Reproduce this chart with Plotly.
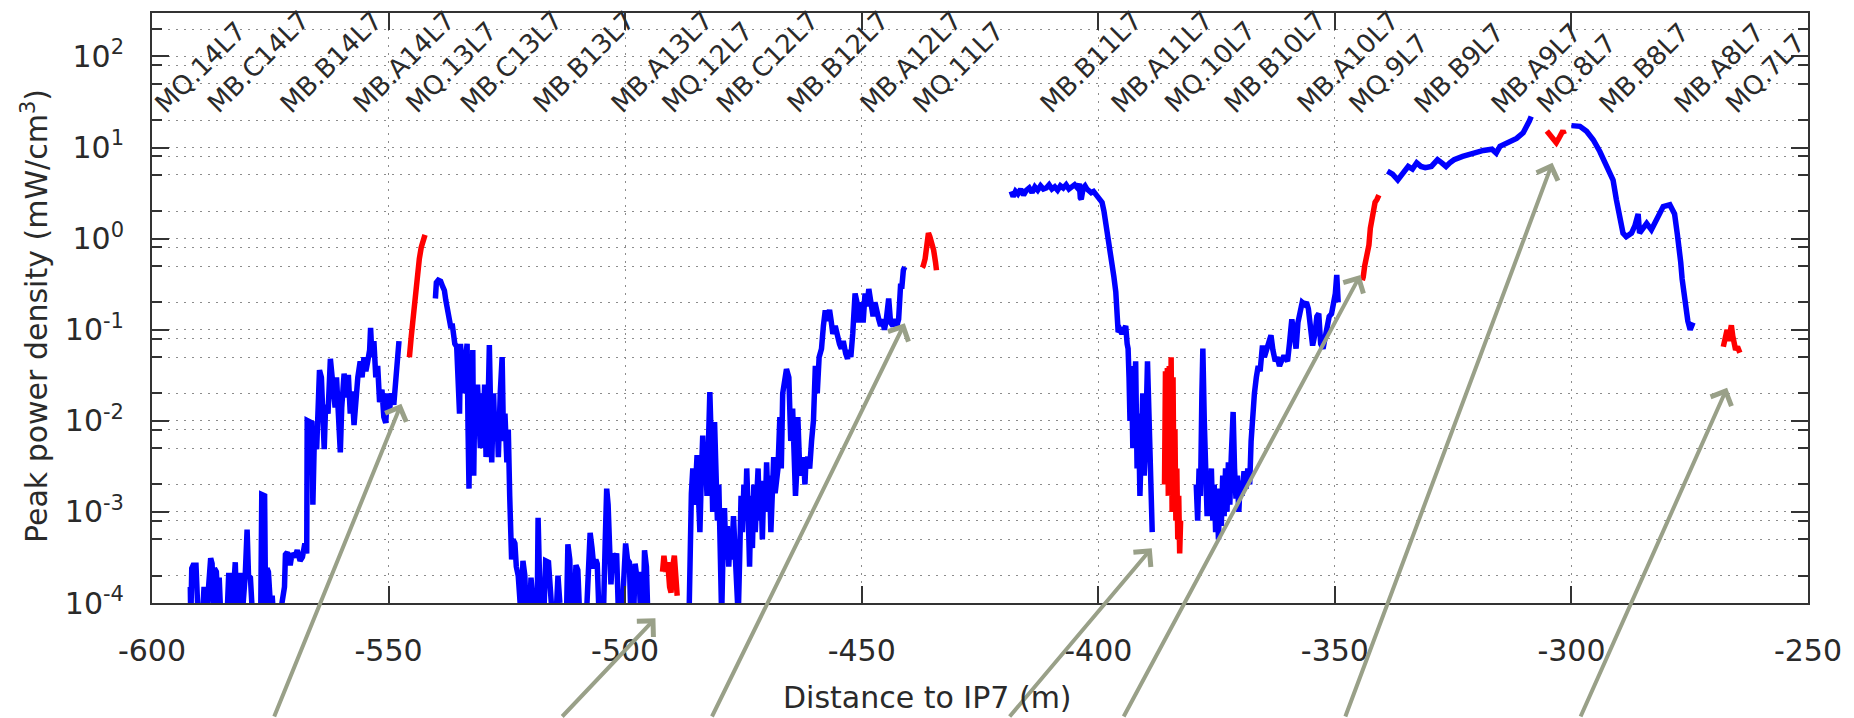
import math
import plotly.graph_objects as go

# Peak power density along the arc left of IP7.
# Each list is one continuous run of (distance to IP7 [m], density [mW/cm^3]).
blue_a = [
    (-591.9, 1.5e-4), (-591.8, 6e-5), (-591.6, 2.4e-4), (-591.3, 2.6e-4), (-590.7, 2.6e-4),
    (-590.4, 1.3e-4), (-590.2, 6e-5), (-589.4, 6e-5), (-589.0, 1.5e-4), (-588.6, 6e-5),
    (-588.0, 1.6e-4), (-587.6, 3.1e-4), (-587.3, 2.7e-4), (-587.0, 7e-5), (-586.8, 2.4e-4),
    (-586.4, 2.2e-4), (-586.0, 8e-5), (-585.8, 1.9e-4), (-585.5, 8e-5), (-585.0, 6e-5),
    (-584.2, 6e-5), (-583.8, 2e-4), (-583.3, 2e-4), (-583.0, 8e-5), (-582.6, 1.9e-4),
    (-582.4, 2.8e-4), (-582.1, 8e-5), (-581.8, 2e-4), (-581.2, 2e-4), (-580.8, 9e-5),
    (-580.3, 2e-4), (-579.9, 6.4e-4), (-579.6, 2e-4), (-579.2, 1.9e-4), (-578.8, 8e-5),
    (-578.4, 6e-5), (-577.3, 6e-5), (-577.0, 1e-4), (-576.8, 1.55e-3), (-576.2, 1.5e-3),
    (-576.0, 1e-4), (-575.7, 2.4e-4), (-575.4, 2.2e-4), (-575.0, 1e-4), (-574.6, 1.2e-4),
    (-574.3, 7e-5), (-573.0, 7e-5), (-572.4, 1.1e-4), (-572.0, 1.5e-4), (-571.8, 3.4e-4),
    (-571.4, 3.6e-4), (-570.8, 2.6e-4), (-570.4, 3.5e-4), (-569.8, 3.2e-4), (-569.3, 3.8e-4),
    (-568.7, 2.9e-4), (-568.2, 3.2e-4), (-567.7, 4.5e-4), (-567.3, 3.5e-4), (-567.2, 0.0101),
    (-566.5, 0.0098), (-566.2, 0.0095), (-566.0, 0.0012), (-565.7, 0.006), (-565.2, 0.0049),
    (-564.9, 0.012), (-564.6, 0.036), (-564.2, 0.03), (-563.9, 0.0075), (-563.6, 0.0049),
    (-563.3, 0.015), (-562.8, 0.012), (-562.3, 0.048), (-561.8, 0.022), (-561.3, 0.014),
    (-561.0, 0.03), (-560.6, 0.012), (-560.2, 0.0045), (-559.9, 0.014), (-559.4, 0.033),
    (-559.0, 0.018), (-558.5, 0.032), (-558.1, 0.012), (-557.7, 0.021), (-557.3, 0.009),
    (-556.9, 0.02), (-556.5, 0.03), (-556.0, 0.045), (-555.6, 0.03), (-555.2, 0.05),
    (-554.8, 0.035), (-554.4, 0.045), (-554.0, 0.06), (-553.8, 0.105), (-553.5, 0.05),
    (-553.1, 0.075), (-552.7, 0.03), (-552.3, 0.04), (-551.9, 0.016), (-551.4, 0.022),
    (-551.0, 0.011), (-550.6, 0.0095), (-550.2, 0.02), (-549.8, 0.013), (-549.4, 0.02),
    (-548.9, 0.015), (-548.5, 0.03), (-548.1, 0.045), (-547.8, 0.075),
]
blue_b = [
    (-540.1, 0.22), (-539.9, 0.33), (-539.5, 0.35), (-539.0, 0.34), (-538.6, 0.3),
    (-538.2, 0.27), (-537.9, 0.21), (-537.5, 0.16), (-537.2, 0.14), (-536.9, 0.11),
    (-536.5, 0.11), (-536.2, 0.08), (-536.0, 0.07), (-535.6, 0.065), (-535.3, 0.02),
    (-535.0, 0.012), (-534.8, 0.07), (-534.5, 0.04), (-534.2, 0.05), (-534.0, 0.02),
    (-533.7, 0.05), (-533.4, 0.07), (-533.2, 0.008), (-533.0, 0.0018), (-532.8, 0.02),
    (-532.5, 0.004), (-532.2, 0.06), (-532.0, 0.0025), (-531.8, 0.015), (-531.5, 0.008),
    (-531.2, 0.025), (-530.9, 0.01), (-530.6, 0.005), (-530.3, 0.02), (-530.0, 0.006),
    (-529.7, 0.025), (-529.4, 0.004), (-529.0, 0.012), (-528.7, 0.068), (-528.5, 0.02),
    (-528.2, 0.0035), (-527.8, 0.02), (-527.5, 0.006), (-527.1, 0.012), (-526.8, 0.004),
    (-526.4, 0.02), (-526.0, 0.05), (-525.7, 0.006), (-525.4, 0.012), (-525.0, 0.0035),
    (-524.7, 0.008), (-524.4, 0.0015), (-524.2, 0.0005), (-524.0, 0.0003),
    (-523.7, 5e-4), (-523.3, 4.5e-4), (-523.0, 2.5e-4), (-522.6, 2e-4), (-522.3, 1.2e-4),
    (-522.0, 7e-5), (-521.6, 2.9e-4), (-521.2, 2e-4), (-520.9, 7e-5), (-520.2, 7e-5),
    (-519.9, 1.9e-4), (-519.6, 1.2e-4), (-519.2, 7e-5), (-518.6, 7e-5), (-518.4, 8.6e-4),
    (-518.1, 2e-4), (-517.8, 7e-5), (-517.2, 7e-5), (-516.8, 2.9e-4), (-516.2, 2.8e-4),
    (-515.8, 1.5e-4), (-515.4, 7e-5), (-514.6, 7e-5), (-514.2, 2e-4), (-513.8, 1e-4),
    (-513.4, 7e-5), (-512.4, 7e-5), (-512.1, 4.4e-4), (-511.7, 3e-4), (-511.4, 7e-5),
    (-510.8, 7e-5), (-510.4, 2.6e-4), (-510.0, 2.3e-4), (-509.6, 7e-5), (-508.2, 7e-5),
    (-507.8, 2.6e-4), (-507.4, 5.9e-4), (-507.0, 4e-4), (-506.6, 2.4e-4), (-506.2, 3e-4),
    (-505.9, 2.7e-4), (-505.5, 7e-5), (-504.6, 7e-5), (-504.2, 5e-4), (-503.9, 1.8e-3),
    (-503.6, 1.2e-3), (-503.3, 3e-4), (-503.0, 1.6e-4), (-502.6, 3.5e-4), (-502.2, 2.9e-4),
    (-501.8, 3.5e-4), (-501.4, 7e-5), (-500.7, 7e-5), (-500.3, 1.9e-4), (-499.9, 4.5e-4),
    (-499.5, 3e-4), (-499.1, 2.8e-4), (-498.8, 7e-5), (-498.2, 7e-5), (-497.9, 2.7e-4),
    (-497.5, 1.9e-4), (-497.1, 2.2e-4), (-496.7, 7e-5), (-496.2, 7e-5), (-495.9, 3.8e-4),
    (-495.5, 2.5e-4), (-495.2, 7e-5),
]
blue_c = [
    (-486.5, 7e-5), (-486.3, 5e-4), (-486.0, 1.6e-3), (-485.7, 3e-3), (-485.4, 1.2e-3),
    (-485.1, 2e-3), (-484.8, 4.2e-3), (-484.5, 1.5e-3), (-484.2, 6e-4), (-483.9, 2.5e-3),
    (-483.6, 6.9e-3), (-483.3, 2e-3), (-483.0, 4e-3), (-482.7, 1.5e-3), (-482.4, 8e-3),
    (-482.1, 0.0207), (-481.8, 6e-3), (-481.5, 1e-3), (-481.1, 9.7e-3), (-480.8, 3e-3),
    (-480.5, 8e-4), (-480.2, 2e-3), (-479.9, 4e-4), (-479.6, 7e-5), (-479.3, 4e-4),
    (-479.0, 1.1e-3), (-478.7, 3e-4), (-478.4, 7e-4), (-478.1, 2.5e-4), (-477.8, 6e-4),
    (-477.5, 3e-4), (-477.1, 9e-4), (-476.8, 4e-4), (-476.4, 1.2e-4), (-476.1, 7e-5),
    (-475.8, 3e-4), (-475.5, 1.5e-3), (-475.2, 6e-4), (-474.9, 2e-3), (-474.6, 8e-4),
    (-474.3, 3e-3), (-474.0, 1e-3), (-473.7, 2.5e-4), (-473.4, 1.5e-3), (-473.1, 4e-4),
    (-472.8, 2e-3), (-472.5, 6e-4), (-472.2, 1.4e-3), (-471.9, 3e-3), (-471.6, 8e-4),
    (-471.3, 2.2e-3), (-471.0, 5e-4), (-470.7, 2e-3), (-470.4, 1e-3), (-470.1, 3.5e-3),
    (-469.8, 1.2e-3), (-469.5, 2.5e-3), (-469.2, 6e-4), (-468.9, 1.8e-3), (-468.6, 4e-3),
    (-468.3, 1.6e-3), (-468.0, 2.6e-3), (-467.7, 3e-3), (-467.3, 0.011), (-467.0, 0.003),
    (-466.7, 0.02), (-466.3, 0.03), (-465.9, 0.037), (-465.4, 0.03), (-465.0, 0.006),
    (-464.6, 0.0136), (-464.3, 0.004), (-464.0, 0.0015), (-463.7, 0.003), (-463.5, 0.011),
    (-463.2, 0.004), (-462.9, 0.0025), (-462.6, 0.003), (-462.3, 0.004), (-462.0, 0.002),
    (-461.8, 0.0035), (-461.4, 0.004), (-461.0, 0.003), (-460.6, 0.006), (-460.2, 0.01),
    (-459.8, 0.04), (-459.4, 0.02), (-459.0, 0.05), (-458.5, 0.062), (-458.1, 0.11),
    (-457.7, 0.163), (-457.3, 0.125), (-456.8, 0.165), (-456.5, 0.13), (-456.1, 0.09),
    (-455.6, 0.11), (-455.2, 0.085), (-454.7, 0.07), (-454.3, 0.062), (-453.9, 0.075),
    (-453.4, 0.055), (-453.0, 0.048), (-452.7, 0.06), (-452.3, 0.05), (-451.9, 0.09),
    (-451.4, 0.25), (-451.0, 0.2), (-450.6, 0.12), (-450.1, 0.2), (-449.7, 0.12),
    (-449.3, 0.25), (-448.9, 0.18), (-448.5, 0.28), (-448.1, 0.22), (-447.6, 0.14),
    (-447.2, 0.2), (-446.8, 0.15), (-446.4, 0.13), (-446.0, 0.11), (-445.6, 0.13),
    (-445.2, 0.1), (-444.8, 0.13), (-444.3, 0.22), (-443.9, 0.12), (-443.4, 0.11),
    (-443.0, 0.13), (-442.6, 0.11), (-442.2, 0.13), (-441.8, 0.3), (-441.5, 0.3),
    (-441.2, 0.45), (-440.9, 0.49),
]
blue_d = [
    (-418.4, 3.3), (-418.0, 2.9), (-417.5, 3.3), (-417.0, 3.1), (-416.4, 3.5), (-415.8, 3.0),
    (-415.2, 3.4), (-414.6, 3.6), (-414.0, 3.2), (-413.4, 3.7), (-412.8, 3.4), (-412.2, 3.8),
    (-411.6, 3.5), (-411.0, 3.6), (-410.4, 3.9), (-409.8, 3.5), (-409.2, 3.7), (-408.6, 3.4),
    (-408.0, 3.8), (-407.4, 3.6), (-406.8, 3.9), (-406.2, 3.5), (-405.6, 3.7), (-405.0, 3.9),
    (-404.4, 3.6), (-404.0, 4.0), (-403.8, 2.8), (-403.6, 2.7), (-403.2, 3.6), (-402.8, 3.8),
    (-402.4, 3.5), (-402.0, 3.4), (-401.5, 3.2), (-401.0, 3.3), (-400.5, 3.0), (-400.0, 2.8),
    (-399.5, 2.6), (-399.2, 2.5), (-398.8, 2.0), (-398.4, 1.5), (-397.9, 1.0), (-397.5, 0.75),
    (-397.1, 0.5), (-396.7, 0.38), (-396.3, 0.26), (-396.0, 0.15), (-395.8, 0.094),
    (-395.4, 0.1), (-395.0, 0.09), (-394.6, 0.1), (-394.2, 0.11), (-393.9, 0.07),
    (-393.7, 0.062), (-393.5, 0.03), (-393.3, 0.01), (-393.0, 0.04), (-392.7, 0.005),
    (-392.4, 0.02), (-392.1, 0.045), (-391.8, 0.003), (-391.5, 0.012), (-391.2, 0.0015),
    (-390.9, 0.008), (-390.6, 0.02), (-390.3, 0.0025), (-390.0, 0.006), (-389.6, 0.045),
    (-389.3, 0.01), (-389.0, 0.003), (-388.8, 0.0008), (-388.6, 0.0006),
]
blue_e = [
    (-379.3, 0.002), (-379.0, 0.0008), (-378.7, 0.003), (-378.4, 0.0015), (-378.1, 0.02),
    (-377.9, 0.062), (-377.6, 0.01), (-377.3, 0.002), (-377.0, 0.0009), (-376.7, 0.0025),
    (-376.4, 0.0012), (-376.1, 0.003), (-375.8, 0.0008), (-375.5, 0.002), (-375.2, 0.0006),
    (-374.9, 0.0015), (-374.6, 0.0005), (-374.3, 0.0018), (-374.0, 0.0007), (-373.7, 0.0025),
    (-373.4, 0.0009), (-373.1, 0.003), (-372.8, 0.001), (-372.5, 0.0035), (-372.2, 0.0012),
    (-371.9, 0.004), (-371.5, 0.0125), (-371.2, 0.003), (-370.9, 0.0014), (-370.6, 0.0025),
    (-370.3, 0.001), (-370.0, 0.0022), (-369.6, 0.0015), (-369.2, 0.0028), (-368.8, 0.0018),
    (-368.4, 0.003), (-368.0, 0.002), (-367.7, 0.006), (-367.4, 0.011), (-367.0, 0.02),
    (-366.6, 0.03), (-366.2, 0.04), (-365.8, 0.035), (-365.3, 0.067), (-364.9, 0.05),
    (-364.4, 0.06), (-364.0, 0.075), (-363.5, 0.087), (-363.1, 0.06), (-362.6, 0.045),
    (-362.2, 0.05), (-361.7, 0.04), (-361.3, 0.045), (-360.9, 0.05), (-360.5, 0.05),
    (-360.0, 0.045), (-359.6, 0.07), (-359.1, 0.13), (-358.6, 0.09), (-358.2, 0.062),
    (-357.8, 0.12), (-357.3, 0.18), (-356.9, 0.2), (-356.4, 0.19), (-356.0, 0.2),
    (-355.6, 0.17), (-355.1, 0.09), (-354.7, 0.067), (-354.2, 0.09), (-353.8, 0.14),
    (-353.4, 0.15), (-353.0, 0.07), (-352.5, 0.062), (-352.1, 0.08), (-351.6, 0.1),
    (-351.2, 0.14), (-350.7, 0.15), (-350.3, 0.2), (-349.9, 0.25), (-349.6, 0.4),
    (-349.4, 0.3), (-349.3, 0.2),
]
blue_f = [
    (-338.9, 5.5), (-337.8, 5.1), (-336.7, 4.4), (-335.6, 5.2), (-334.5, 6.2), (-333.6, 5.8),
    (-332.7, 6.8), (-331.8, 6.2), (-330.9, 6.0), (-329.6, 6.2), (-328.3, 7.35), (-327.4, 6.8),
    (-326.5, 6.2), (-325.7, 6.8), (-324.8, 7.35), (-323.0, 8.0), (-321.2, 8.6), (-320.3, 9.0),
    (-318.6, 9.3), (-316.8, 9.6), (-315.9, 8.7), (-315.1, 10.3), (-313.3, 11.6), (-311.6, 12.6),
    (-310.2, 14.5), (-309.3, 17.1), (-308.9, 19.5), (-308.5, 21.9),
]
blue_g = [
    (-300.0, 17.4), (-298.2, 17.1), (-296.8, 15.1), (-295.4, 12.2), (-294.0, 9.05),
    (-292.6, 6.5), (-291.2, 4.4), (-290.5, 2.67), (-289.8, 1.6), (-289.1, 1.15),
    (-288.4, 1.05), (-287.3, 1.15), (-286.6, 1.38), (-285.9, 1.87), (-285.6, 1.15),
    (-284.1, 1.47), (-283.1, 1.25), (-282.0, 1.6), (-280.6, 2.25), (-279.2, 2.35),
    (-278.2, 1.87), (-277.6, 1.1), (-277.1, 0.76), (-276.9, 0.55), (-276.6, 0.36),
    (-276.2, 0.25), (-275.8, 0.16), (-275.4, 0.125), (-274.9, 0.1), (-274.3, 0.12),
]
red_1 = [
    (-545.6, 0.05), (-545.5, 0.065), (-545.2, 0.085), (-544.9, 0.12), (-544.6, 0.18),
    (-544.3, 0.26), (-543.9, 0.5), (-543.5, 0.6), (-543.1, 0.8), (-542.7, 0.95), (-542.3, 1.1),
]
red_2 = [
    (-492.1, 2.2e-4), (-491.8, 3.3e-4), (-491.4, 2.2e-4), (-491.0, 2.8e-4), (-490.6, 1.5e-4),
    (-490.3, 1.3e-4), (-490.0, 2.4e-4), (-489.6, 3.3e-4), (-489.3, 2e-4), (-489.0, 1.2e-4),
]
red_3 = [
    (-437.2, 0.48), (-437.0, 0.5), (-436.6, 0.6), (-436.3, 0.85), (-435.9, 1.15),
    (-435.6, 1.05), (-435.2, 0.9), (-434.8, 0.75), (-434.4, 0.55), (-434.2, 0.45),
]
red_4 = [
    (-386.0, 0.002), (-385.8, 0.035), (-385.6, 0.003), (-385.4, 0.038), (-385.2, 0.0015),
    (-385.0, 0.04), (-384.8, 0.002), (-384.6, 0.05), (-384.4, 0.001), (-384.2, 0.03),
    (-384.0, 0.0012), (-383.8, 0.008), (-383.6, 0.0008), (-383.4, 0.003), (-383.2, 0.0005),
    (-383.0, 0.0015), (-382.8, 0.00035), (-382.6, 0.0008),
]
red_5 = [
    (-344.2, 0.35), (-344.0, 0.38), (-343.7, 0.5), (-343.4, 0.6), (-343.1, 0.7), (-342.8, 0.85),
    (-342.5, 1.3), (-342.2, 1.7), (-341.9, 1.8), (-341.5, 2.5), (-341.1, 2.7), (-340.7, 3.0),
]
red_6 = [
    (-305.2, 15.2), (-304.7, 14.2), (-304.2, 13.0), (-303.6, 11.6), (-303.2, 11.3),
    (-302.7, 12.5), (-302.2, 14.5), (-301.8, 15.3), (-301.5, 14.0),
]
red_7 = [
    (-267.9, 0.065), (-267.7, 0.075), (-267.4, 0.09), (-267.1, 0.1), (-266.8, 0.075),
    (-266.5, 0.1), (-266.2, 0.112), (-265.9, 0.085), (-265.6, 0.065), (-265.3, 0.06),
    (-264.9, 0.065), (-264.4, 0.056),
]

# Magnet names and their start positions along the line (m)
magnet_names = [
    "MQ.14L7", "MB.C14L7", "MB.B14L7", "MB.A14L7", "MQ.13L7", "MB.C13L7", "MB.B13L7",
    "MB.A13L7", "MQ.12L7", "MB.C12L7", "MB.B12L7", "MB.A12L7", "MQ.11L7", "MB.B11L7",
    "MB.A11L7", "MQ.10L7", "MB.B10L7", "MB.A10L7", "MQ.9L7", "MB.B9L7", "MB.A9L7",
    "MQ.8L7", "MB.B8L7", "MB.A8L7", "MQ.7L7",
]
magnet_s = [
    -599.1, -588.2, -572.7, -557.3, -546.1, -534.7, -519.3, -502.8, -492.0, -480.6,
    -465.6, -450.1, -438.9, -412.1, -397.1, -385.8, -373.2, -357.8, -346.8, -333.1,
    -316.8, -307.1, -294.0, -278.2, -267.2,
]

# Highlighted spots: arrow tip (s, density) and where the arrow shaft comes from (s)
arrow_s = [-547.3, -493.6, -440.9, -388.7, -344.6, -304.0, -267.1]
arrow_val = [0.0154, 6.8e-5, 0.118, 4.0e-4, 0.40, 6.8, 0.023]
arrow_from_s = [-574.3, -513.6, -481.8, -419.0, -394.8, -347.9, -298.2]

x_tick_vals = [-600, -550, -500, -450, -400, -350, -300, -250]
x_tick_text = ["-600", "-550", "-500", "-450", "-400", "-350", "-300", "-250"]
y_tick_vals = [1e-4, 1e-3, 1e-2, 1e-1, 1e0, 1e1, 1e2]
y_tick_text = ["10<sup>-4</sup>", "10<sup>-3</sup>", "10<sup>-2</sup>", "10<sup>-1</sup>",
               "10<sup>0</sup>", "10<sup>1</sup>", "10<sup>2</sup>"]
y_minor_vals = [m * 10.0 ** e for e in range(-4, 3) for m in (2, 5, 8) if m * 10.0 ** e < 300]

X_RANGE = [-600, -250]
Y_RANGE = [-4, 2.477]
MARGIN = dict(l=152, r=46, t=13, b=115)
HEIGHT = 718
PLOT_H = HEIGHT - MARGIN["t"] - MARGIN["b"]
ARROW_TAIL_PAPER = -0.232
LABEL_ROW = 0.816         # paper height where the magnet names start
LABEL_SHIFT = -2.0        # metres from a magnet start to the left edge of its name
FONT = "DejaVu Sans"
INK = "#2a2a2a"
GRID = "#8c8c8c"
ARROW = "#99a088"


def join(runs):
    xs, ys = [], []
    for run in runs:
        if xs:
            xs.append(None)
            ys.append(None)
        xs.extend(p[0] for p in run)
        ys.extend(p[1] for p in run)
    return xs, ys


def to_paper_x(s):
    return (s - X_RANGE[0]) / (X_RANGE[1] - X_RANGE[0])


def to_paper_y(v):
    return (math.log10(v) - Y_RANGE[0]) / (Y_RANGE[1] - Y_RANGE[0])


bx, by = join([blue_a, blue_b, blue_c, blue_d, blue_e, blue_f, blue_g])
rx, ry = join([red_1, red_2, red_3, red_4, red_5, red_6, red_7])

fig = go.Figure()
fig.add_trace(go.Scatter(x=bx, y=by, mode="lines", connectgaps=False,
                         line=dict(color="#0000ff", width=5.5), showlegend=False,
                         hoverinfo="skip"))
fig.add_trace(go.Scatter(x=rx, y=ry, mode="lines", connectgaps=False,
                         line=dict(color="#ff0000", width=5.5), showlegend=False,
                         hoverinfo="skip"))

annotations = []
# magnet names, written diagonally along the top edge of the plot
for name, s in zip(magnet_names, magnet_s):
    annotations.append(dict(
        x=to_paper_x(s + LABEL_SHIFT), y=LABEL_ROW, xref="paper", yref="paper", text=name,
        showarrow=False, textangle=-45, xanchor="left", yanchor="bottom",
        font=dict(family=FONT, size=26, color=INK)))

for s, v, s0 in zip(arrow_s, arrow_val, arrow_from_s):
    py = to_paper_y(v)
    annotations.append(dict(
        x=s, y=py, xref="x", yref="paper", text="",
        showarrow=True, axref="x", ayref="pixel", ax=s0,
        ay=(py - ARROW_TAIL_PAPER) * PLOT_H,
        arrowhead=4, arrowsize=1.1, arrowwidth=4, arrowcolor=ARROW, standoff=0))

annotations.append(dict(
    x=0.468, y=-0.161, xref="paper", yref="paper", text="Distance to IP7 (m)",
    showarrow=False, xanchor="center", yanchor="middle",
    font=dict(family=FONT, size=30, color=INK)))
annotations.append(dict(
    x=-0.0704, y=0.487, xref="paper", yref="paper",
    text="Peak power density (mW/cm<sup>3</sup>)", textangle=-90,
    showarrow=False, xanchor="center", yanchor="middle",
    font=dict(family=FONT, size=30, color=INK)))

fig.update_layout(
    width=1854, height=HEIGHT,
    margin=MARGIN,
    paper_bgcolor="white", plot_bgcolor="white",
    font=dict(family=FONT, size=30, color=INK),
    annotations=annotations,
    showlegend=False,
)
fig.update_xaxes(
    range=X_RANGE, tickmode="array", tickvals=x_tick_vals, ticktext=x_tick_text,
    ticks="inside", ticklen=17, tickwidth=2, tickcolor="#333",
    showline=True, linewidth=2, linecolor="#333", mirror="ticks",
    showgrid=True, gridcolor=GRID, gridwidth=1.2, griddash="2px,6px",
    zeroline=False, ticklabelstandoff=20,
    tickfont=dict(family=FONT, size=30, color=INK),
)
fig.update_yaxes(
    type="log", range=Y_RANGE, tickmode="array", tickvals=y_tick_vals, ticktext=y_tick_text,
    ticks="inside", ticklen=17, tickwidth=2, tickcolor="#333",
    showline=True, linewidth=2, linecolor="#333", mirror="ticks",
    showgrid=True, gridcolor=GRID, gridwidth=1.2, griddash="2px,6px",
    zeroline=False, ticklabelstandoff=20,
    tickfont=dict(family=FONT, size=30, color=INK),
    minor=dict(tickmode="array", tickvals=y_minor_vals, ticks="inside", ticklen=10,
               tickwidth=2, tickcolor="#333", showgrid=True, gridcolor=GRID,
               gridwidth=1.2, griddash="2px,6px"),
)

fig.write_html("out.html")
